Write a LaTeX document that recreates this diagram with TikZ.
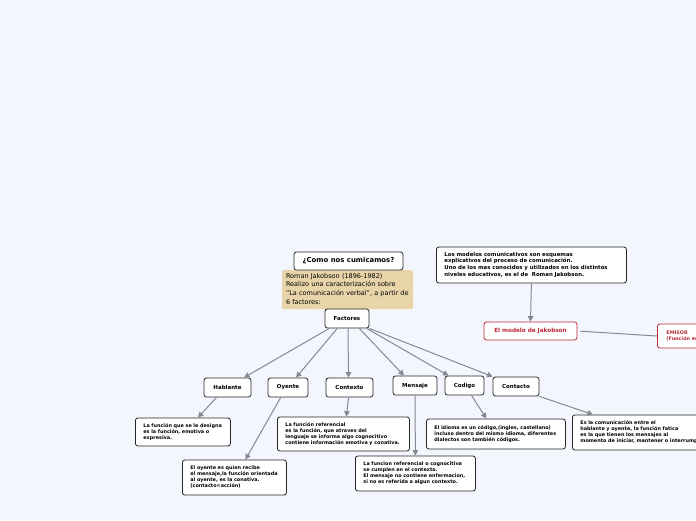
\documentclass[tikz,border=0pt]{standalone}
\usepackage{fontspec}
\setmainfont{DejaVu Sans}
\usetikzlibrary{arrows.meta}
\definecolor{bgc}{RGB}{244,246,254}
\definecolor{tanc}{RGB}{232,212,168}
\definecolor{redc}{RGB}{185,40,50}
\definecolor{connc}{RGB}{135,135,145}
\newcommand{\lines}[1]{\begin{tabular}{@{}l@{}}#1\end{tabular}}
\begin{document}
\begin{tikzpicture}[x=1pt,y=-1pt,
  box/.style={draw=black!85, fill=white, rounded corners=2.5pt, line width=0.8pt, inner sep=0pt},
  lbl/.style={box, font=\bfseries\fontsize{5.5}{6.5}\selectfont},
  desc/.style={box, font=\bfseries\fontsize{4.9}{6.1}\selectfont, align=left, inner xsep=8pt, anchor=west},
  conn/.style={draw=connc, line width=1pt, -{Triangle[length=5.5pt,width=5.5pt]}},
  plainconn/.style={draw=connc, line width=1pt}]
\fill[bgc] (0,0) rectangle (696,520);
\clip (0,0) rectangle (696,520);

% top area
\node[fill=tanc, rounded corners=1.5pt, inner xsep=4pt, inner ysep=0pt, minimum width=131pt, minimum height=39pt,
  text width=123pt, align=left, font=\fontsize{6.5}{8.6}\selectfont] (tan) at (347.5,289.5)
  {\lines{Roman Jakobson (1896-1982)\\Realizo una caracterización sobre\\"La comunicación verbal", a partir de\\6 factores:}};
\node[box, minimum width=109pt, minimum height=18pt, font=\bfseries\fontsize{6.9}{8}\selectfont] (title) at (348.5,261) {¿Como nos cumicamos?};
\node[lbl, minimum width=44pt, minimum height=19pt] (fac) at (347,318.5) {Factores};

\node[desc, minimum width=190pt, minimum height=36pt, text width=174pt, font=\bfseries\fontsize{5.4}{6.7}\selectfont] (tr) at (436,265)
  {\lines{Los modelos comunicativos son esquemas\\explicativos del proceso de comunicación.\\Uno de los mas conocidos y utilizados en los distintos\\niveles educativos, es el de\ \ Roman Jakobson.}};
\node[lbl, draw=redc, text=redc, minimum width=93pt, minimum height=18pt, font=\bfseries\fontsize{5.7}{6.5}\selectfont] (jak) at (530.5,331) {El modelo de Jakobson};
\node[desc, draw=redc, text=redc, inner xsep=9pt, minimum width=78pt, minimum height=24pt, text width=60pt, font=\bfseries\fontsize{4.9}{6}\selectfont] (emi) at (657,336)
  {\lines{EMISOR\\(Función emotiva)}};

% children
\node[lbl, minimum width=47pt, minimum height=19pt] (hab) at (227.5,387.5) {Hablante};
\node[lbl, minimum width=40pt, minimum height=19pt] (oye) at (288,387.5) {Oyente};
\node[lbl, minimum width=47pt, minimum height=19pt] (ctx) at (349.5,387.5) {Contexto};
\node[lbl, minimum width=44pt, minimum height=19pt] (men) at (415,385.5) {Mensaje};
\node[lbl, minimum width=39pt, minimum height=19pt] (cod) at (464.5,385.5) {Codigo};
\node[lbl, minimum width=46pt, minimum height=19pt] (con) at (516,386.5) {Contacto};

% descriptions
\node[desc, minimum width=95pt, minimum height=28pt, text width=79pt] (hd) at (135,432)
  {\lines{La función que se le designa\\es la función, emotiva o\\expresiva.}};
\node[desc, minimum width=104pt, minimum height=35pt, text width=88pt] (od) at (182,477.5)
  {\lines{El oyente es quien recibe\\el mensaje,la función orientada\\al oyente, es la conativa.\\(contacto=acción)}};
\node[desc, minimum width=132pt, minimum height=34pt, text width=116pt] (cd) at (277,434)
  {\lines{La función referencial\\es la función, que atraves del\\lenguaje se informa algo cognocitivo\\contiene información emotiva y conativa.}};
\node[desc, minimum width=120pt, minimum height=35pt, text width=104pt] (md) at (355,473.5)
  {\lines{La funcion referencial o cognocitiva\\se cumplen en el contexto.\\El mensaje no contiene enfermacion,\\si no es referida a algun contexto.}};
\node[desc, minimum width=139pt, minimum height=30pt, text width=123pt] (kd) at (426,434)
  {\lines{El idioma es un código,(ingles, castellano)\\incluso dentro del mismo idioma, diferentes\\dialectos son también códigos.}};
\node[desc, minimum width=140pt, minimum height=35pt, text width=124pt] (nd) at (572,432.5)
  {\lines{Es la comunicación entre el\\hablante y oyente, la función fatica\\es la que tienen los mensajes al\\momento de iniciar, mantener o interrumpir}};

% connectors
\draw[conn] (tr.south) -- (jak.north);
\draw[plainconn, shorten <=3pt] (jak.east) -- (emi.west);

\draw[conn] ([xshift=-17.7pt]fac.south) -- ([xshift=16.5pt]hab.north);
\draw[conn] ([xshift=-9.7pt]fac.south) -- ([xshift=8pt]oye.north);
\draw[conn] ([xshift=1pt]fac.south) -- ([xshift=-1pt]ctx.north);
\draw[conn] ([xshift=12.3pt]fac.south) -- ([xshift=-11pt]men.north);
\draw[conn] ([xshift=19.7pt]fac.south) -- ([xshift=-16pt]cod.north);
\draw[conn] (fac.south east) -- (con.north west);

\draw[conn] ([xshift=-11pt]hab.south) -- ([xshift=15pt]hd.north);
\draw[conn] ([xshift=-7.3pt]oye.south) -- ([xshift=11pt]od.north);
\draw[conn] ([xshift=-1pt]ctx.south) -- ([xshift=3pt]cd.north);
\draw[conn] (men.south) -- (md.north);
\draw[conn] ([xshift=7pt]cod.south) -- ([xshift=-9.5pt]kd.north);
\draw[conn] (con.south east) -- ([xshift=21pt]nd.north west);
\end{tikzpicture}
\end{document}
